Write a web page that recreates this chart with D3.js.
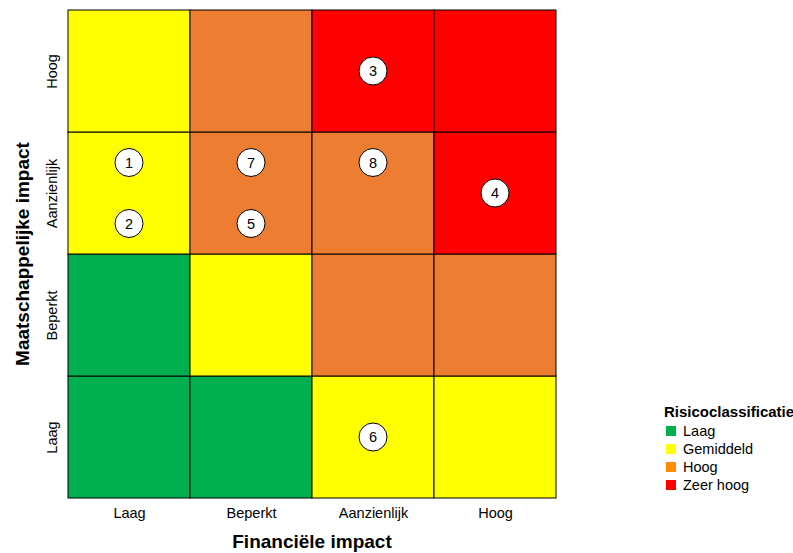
<!DOCTYPE html>
<html>
<head>
<meta charset="utf-8">
<script src="https://cdn.jsdelivr.net/npm/d3@7"></script>
<style>
  body { margin: 0; background: #fff; }
  svg { font-family: "Liberation Sans", Arial, sans-serif; }
</style>
</head>
<body>
<svg id="svg_matrix" width="793" height="553"></svg>
<script>
// risk matrix data
const levelsX = ['Laag', 'Beperkt', 'Aanzienlijk', 'Hoog']
const levelsY = ['Laag', 'Beperkt', 'Aanzienlijk', 'Hoog']
const classes = ['Laag', 'Gemiddeld', 'Hoog', 'Zeer hoog']
const classColors = ['#00B050', '#FFFF00', '#ED7D31', '#FF0000']
const legendColors = ['#00B050', '#FFFF00', '#FF8C00', '#FF0000']

// class index per cell, row = maatschappelijke impact (Laag..Hoog), col = financiele impact
const cellClass = [
  [0, 0, 1, 1],
  [0, 1, 2, 2],
  [1, 2, 2, 3],
  [1, 2, 3, 3]
]

const riskIds = ['1', '2', '7', '5', '8', '3', '4', '6']
const riskX = [1, 1, 2, 2, 3, 3, 4, 3]
const riskY = [3.25, 2.75, 3.25, 2.75, 3.25, 4, 3, 1]

function draw() {
  const svg = d3.select('#svg_matrix')

  const margin = { top: 10, left: 68 }
  const width = 488
  const height = 488

  const xScale = d3.scaleLinear()
    .domain([0.5, 4.5])
    .range([margin.left, margin.left + width])

  const yScale = d3.scaleLinear()
    .domain([0.5, 4.5])
    .range([margin.top + height, margin.top])

  const cells = []
  cellClass.forEach((row, r) => {
    row.forEach((c, col) => cells.push({ x: col + 1, y: r + 1, cls: c }))
  })

  svg.append('g')
    .selectAll('rect')
    .data(cells)
    .enter()
    .append('rect')
    .attr('x', d => xScale(d.x - 0.5))
    .attr('y', d => yScale(d.y + 0.5))
    .attr('width', d => xScale(d.x + 0.5) - xScale(d.x - 0.5))
    .attr('height', d => yScale(d.y - 0.5) - yScale(d.y + 0.5))
    .attr('fill', d => classColors[d.cls])
    .attr('stroke', '#000')
    .attr('stroke-width', 1)

  // axes
  const bottomAxis = d3.axisBottom(xScale)
    .tickValues([1, 2, 3, 4])
    .tickFormat(d => levelsX[d - 1])
    .tickSize(0)
    .tickPadding(10)

  const gx = svg.append('g')
    .attr('transform', `translate(0, ${margin.top + height})`)
    .call(bottomAxis)
  gx.select('.domain').remove()
  gx.selectAll('text')
    .attr('font-size', 14.5)
    .attr('font-family', '"Liberation Sans", Arial, sans-serif')
    .attr('fill', '#000')

  const leftAxis = d3.axisLeft(yScale)
    .tickValues([1, 2, 3, 4])
    .tickFormat(d => levelsY[d - 1])
    .tickSize(0)
    .tickPadding(0)

  const gy = svg.append('g')
    .attr('transform', `translate(${margin.left}, 0)`)
    .call(leftAxis)
  gy.select('.domain').remove()
  gy.selectAll('.tick text')
    .attr('x', 0)
    .attr('dy', 0)
    .attr('transform', 'translate(-11, 0) rotate(-90)')
    .attr('text-anchor', 'middle')
    .attr('font-size', 14.5)
    .attr('font-family', '"Liberation Sans", Arial, sans-serif')
    .attr('fill', '#000')

  // axis titles
  svg.append('text')
    .text('Financiële impact')
    .attr('x', xScale(2.5))
    .attr('y', 548)
    .attr('text-anchor', 'middle')
    .attr('font-size', 19)
    .attr('font-weight', 'bold')

  svg.append('text')
    .text('Maatschappelijke impact')
    .attr('transform', `translate(29, ${yScale(2.5)}) rotate(-90)`)
    .attr('text-anchor', 'middle')
    .attr('font-size', 19)
    .attr('font-weight', 'bold')

  // risk points
  const points = riskIds.map((id, i) => ({ id: id, x: riskX[i], y: riskY[i] }))

  const pg = svg.append('g')
    .selectAll('g')
    .data(points)
    .enter()
    .append('g')
    .attr('transform', d => `translate(${xScale(d.x)}, ${yScale(d.y)})`)

  pg.append('circle')
    .attr('r', 14)
    .attr('fill', '#fff')
    .attr('stroke', '#000')
    .attr('stroke-width', 1)

  pg.append('text')
    .text(d => d.id)
    .attr('text-anchor', 'middle')
    .attr('dy', '0.36em')
    .attr('font-size', 14.5)

  // legend
  const legend = svg.append('g')
    .attr('transform', 'translate(664, 0)')

  legend.append('text')
    .text('Risicoclassificatie')
    .attr('x', 0)
    .attr('y', 417)
    .attr('font-size', 15)
    .attr('font-weight', 'bold')

  const items = legend.selectAll('g.item')
    .data(classes)
    .enter()
    .append('g')
    .attr('class', 'item')
    .attr('transform', (d, i) => `translate(0, ${431 + i * 18})`)

  items.append('rect')
    .attr('x', 2)
    .attr('y', -5)
    .attr('width', 10)
    .attr('height', 10)
    .attr('fill', (d, i) => legendColors[i])

  items.append('text')
    .text(d => d)
    .attr('x', 19)
    .attr('dy', '0.36em')
    .attr('font-size', 14.5)
}

draw()
</script>
</body>
</html>
